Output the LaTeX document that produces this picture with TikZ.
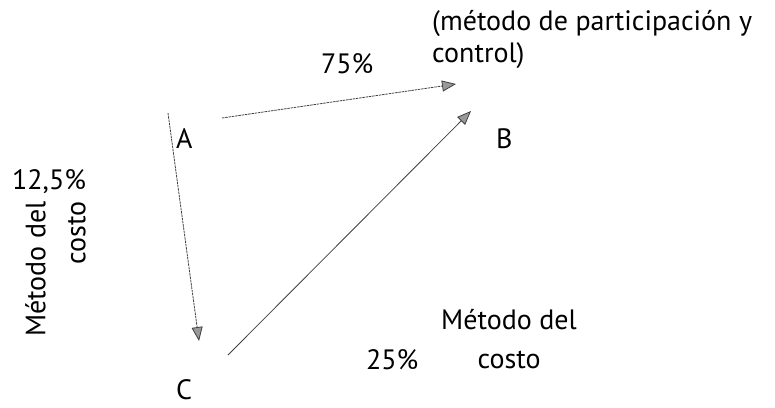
\documentclass[tikz,border=0pt]{standalone}
\usepackage{fontspec}
\setmainfont{PT Sans}
\usetikzlibrary{arrows.meta}

\begin{document}
\begin{tikzpicture}[x=1pt,y=-1pt,
    lbl/.style={inner sep=0pt,font=\fontsize{28}{32}\selectfont},
    link/.style={draw=black!75,line width=0.8pt,
      -{Triangle[length=14pt,width=11pt,fill=black!40]}},
    dashlink/.style={link,dash pattern=on 2.5pt off 0.8pt}]
  \useasboundingbox (0,0) rectangle (775,407);
  % letters
  \node[lbl,anchor=base west] (A) at (176,148) {A};
  \node[lbl,anchor=base west] (B) at (496,148) {B};
  \node[lbl,anchor=base west] (C) at (176,399) {C};
  % labels
  \node[lbl,anchor=north west,align=left] (tit) at (432,10)
    {(método de participación y\\control)};
  \node[lbl,anchor=base west] (p75) at (321,73) {75\%};
  \node[lbl,anchor=base west] (p125) at (12,189) {12,5\%};
  \node[lbl,anchor=north east,rotate=90,align=right,
    font=\fontsize{28}{40}\selectfont] (cost1) at (25,201) {Método del\\costo};
  \node[lbl,anchor=north,align=center,
    font=\fontsize{28}{39}\selectfont] (cost2) at (509,309) {Método del\\costo};
  \node[lbl,anchor=base west] (p25) at (366,369) {25\%};
  % arrow ends
  \coordinate (ab0) at (222,118);
  \coordinate (ab1) at (456,84);
  \coordinate (ac0) at (168,113);
  \coordinate (ac1) at (199,341);
  \coordinate (cb0) at (228,355);
  \coordinate (cb1) at (471,111);
  \draw[dashlink] (ab0) -- (ab1);
  \draw[dashlink] (ac0) -- (ac1);
  \draw[link] (cb0) -- (cb1);
\end{tikzpicture}
\end{document}
